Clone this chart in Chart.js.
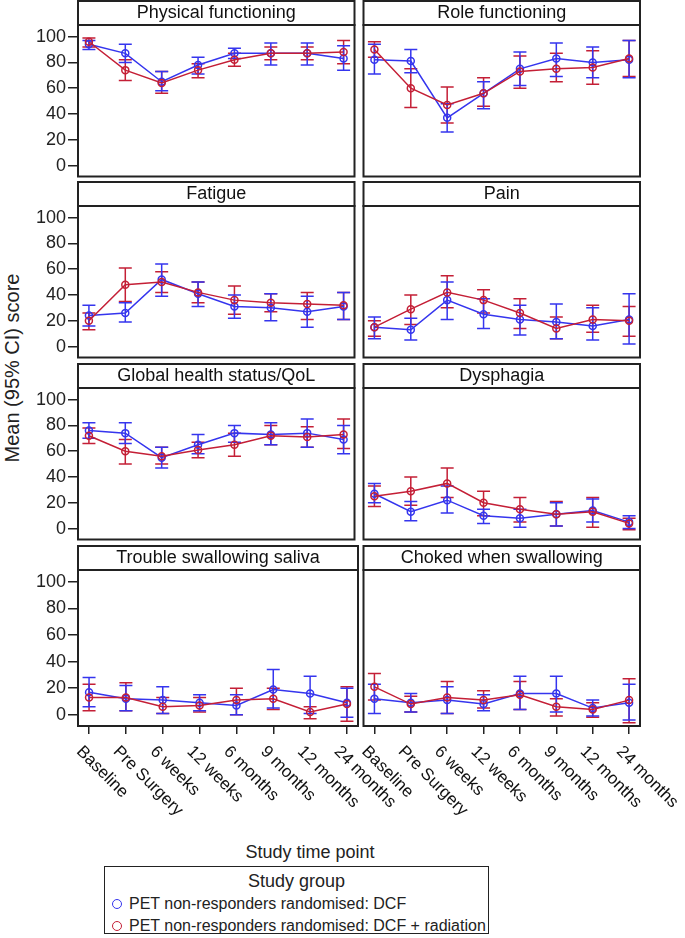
<!DOCTYPE html>
<html>
<head>
<meta charset="utf-8">
<script src="https://cdn.jsdelivr.net/npm/chart.js@4.4.0/dist/chart.umd.min.js"></script>
<style>
  body { margin: 0; background: #fff; font-family: "Liberation Sans", Arial, sans-serif; color: #222; }
  #wrap { position: relative; width: 685px; height: 938px; overflow: hidden; }
  #wrap canvas { position: absolute; }
  .ytitle { position: absolute; left: 12px; top: 368px; transform: translate(-50%, -50%) rotate(-90deg); font-size: 20px; white-space: nowrap; }
  .xtitle { position: absolute; left: 310px; top: 852px; transform: translate(-50%, -50%); font-size: 18px; white-space: nowrap; }
  .legend { position: absolute; left: 104px; top: 866px; width: 385px; height: 68px; border: 1.5px solid #222; box-sizing: border-box; }
  .legend .head { text-align: center; font-size: 18px; margin-top: 4px; line-height: 20px; }
  .legend .row { position: absolute; left: 24px; font-size: 16px; line-height: 18px; white-space: nowrap; }
  .legend .dot { position: absolute; left: -17px; top: 4px; width: 8px; height: 8px; border: 1.5px solid; border-radius: 50%; }
</style>
</head>
<body>
<div id="wrap">
  <div class="ytitle">Mean (95% CI) score</div>
  <div class="xtitle">Study time point</div>
  <div class="legend">
    <div class="head">Study group</div>
    <div class="row" style="top:28px"><span class="dot" style="border-color:#3535ee"></span>PET non-responders randomised: DCF</div>
    <div class="row" style="top:50px"><span class="dot" style="border-color:#c41f36"></span>PET non-responders randomised: DCF + radiation</div>
  </div>
</div>
<script>
const timePoints = ['Baseline', 'Pre Surgery', '6 weeks', '12 weeks', '6 months', '9 months', '12 months', '24 months'];
const yTicks = [0, 20, 40, 60, 80, 100];
const groupNames = ['PET non-responders randomised: DCF', 'PET non-responders randomised: DCF + radiation'];

// Physical functioning
const physicalDcf = [94, 87, 65, 78, 87, 87, 87, 83];
const physicalDcfCi = [[90, 97], [80, 94], [58, 73], [71, 84], [83, 91], [78, 95], [78, 95], [74, 93]];
const physicalRad = [96, 74, 64, 74, 82, 87, 87, 88];
const physicalRadCi = [[92, 99], [66, 82], [56, 73], [68, 79], [77, 87], [82, 92], [82, 92], [79, 97]];

// Role functioning
const roleDcf = [82, 81, 37, 56, 75, 83, 80, 82];
const roleDcfCi = [[71, 94], [72, 90], [26, 48], [44, 65], [62, 88], [69, 95], [68, 92], [68, 97]];
const roleRad = [90, 60, 47, 56, 73, 75, 76, 83];
const roleRadCi = [[84, 96], [45, 75], [33, 61], [46, 68], [60, 85], [65, 87], [63, 89], [69, 97]];

// Fatigue
const fatigueDcf = [24, 26, 52, 41, 31, 30, 27, 31];
const fatigueDcfCi = [[16, 32], [19, 34], [39, 64], [31, 50], [22, 40], [20, 41], [15, 39], [21, 42]];
const fatigueRad = [20, 48, 50, 42, 36, 34, 33, 32];
const fatigueRadCi = [[13, 26], [35, 61], [42, 58], [34, 50], [25, 47], [27, 41], [21, 42], [21, 42]];

// Pain
const painDcf = [15, 13, 36, 25, 21, 19, 16, 21];
const painDcfCi = [[6, 23], [5, 22], [21, 50], [14, 37], [9, 32], [6, 33], [5, 30], [2, 41]];
const painRad = [15, 29, 42, 36, 26, 14, 21, 20];
const painRadCi = [[8, 20], [17, 40], [30, 55], [26, 44], [14, 37], [6, 23], [11, 32], [8, 31]];

// Global health status/QoL
const globalDcf = [76, 74, 55, 65, 74, 73, 74, 69];
const globalDcfCi = [[70, 82], [66, 82], [47, 63], [58, 73], [67, 80], [65, 82], [63, 85], [58, 80]];
const globalRad = [72, 60, 56, 61, 65, 72, 71, 73];
const globalRadCi = [[66, 78], [50, 69], [50, 63], [55, 67], [56, 74], [65, 80], [63, 79], [62, 85]];

// Dysphagia
const dysphagiaDcf = [27, 13, 22, 10, 8, 11, 14, 5];
const dysphagiaDcfCi = [[20, 35], [6, 21], [12, 33], [4, 15], [1, 15], [2, 20], [5, 23], [0, 10]];
const dysphagiaRad = [25, 29, 35, 20, 15, 11, 13, 4];
const dysphagiaRadCi = [[17, 33], [18, 40], [24, 47], [10, 29], [5, 24], [2, 21], [1, 24], [-1, 8]];

// Trouble swallowing saliva
const salivaDcf = [17, 12, 11, 9, 7, 19, 16, 9];
const salivaDcfCi = [[6, 28], [3, 22], [1, 21], [3, 15], [0, 15], [5, 34], [1, 29], [-2, 20]];
const salivaRad = [13, 13, 6, 7, 11, 12, 2, 8];
const salivaRadCi = [[3, 23], [3, 24], [1, 13], [2, 13], [0, 20], [4, 20], [-3, 6], [-5, 21]];

// Choked when swallowing
const chokedDcf = [12, 9, 11, 8, 16, 16, 5, 9];
const chokedDcfCi = [[1, 23], [2, 16], [1, 21], [3, 15], [4, 29], [2, 29], [-1, 11], [-4, 23]];
const chokedRad = [21, 8, 13, 11, 15, 6, 4, 11];
const chokedRadCi = [[11, 31], [2, 14], [1, 25], [5, 18], [4, 25], [-1, 12], [-2, 9], [-6, 27]];

const panels = [
  ['Physical functioning', physicalDcf, physicalDcfCi, physicalRad, physicalRadCi],
  ['Role functioning', roleDcf, roleDcfCi, roleRad, roleRadCi],
  ['Fatigue', fatigueDcf, fatigueDcfCi, fatigueRad, fatigueRadCi],
  ['Pain', painDcf, painDcfCi, painRad, painRadCi],
  ['Global health status/QoL', globalDcf, globalDcfCi, globalRad, globalRadCi],
  ['Dysphagia', dysphagiaDcf, dysphagiaDcfCi, dysphagiaRad, dysphagiaRadCi],
  ['Trouble swallowing saliva', salivaDcf, salivaDcfCi, salivaRad, salivaRadCi],
  ['Choked when swallowing', chokedDcf, chokedDcfCi, chokedRad, chokedRadCi]
];

const BLUE = '#3535ee';
const RED = '#c41f36';
const FONT = '"Liberation Sans", Arial, sans-serif';
Chart.defaults.font.family = FONT;
Chart.defaults.color = '#222';

const rowTops = [0, 181, 363, 545];

// vertical CI whiskers with caps
const errorBars = {
  id: 'errorBars',
  beforeDatasetsDraw(chart) {
    const ctx = chart.ctx;
    const x = chart.scales.x, y = chart.scales.y;
    [...chart.data.datasets].reverse().forEach(ds => {
      ctx.save();
      ctx.strokeStyle = ds.borderColor;
      ctx.lineWidth = 1.5;
      ds.ci.forEach((c, i) => {
        const px = x.getPixelForValue(i);
        const top = y.getPixelForValue(c[1]);
        const bot = y.getPixelForValue(c[0]);
        ctx.beginPath();
        ctx.moveTo(px, top); ctx.lineTo(px, bot);
        ctx.moveTo(px - 6.5, top); ctx.lineTo(px + 6.5, top);
        ctx.moveTo(px - 6.5, bot); ctx.lineTo(px + 6.5, bot);
        ctx.stroke();
      });
      ctx.restore();
    });
  }
};

// header band, frame and rotated time point labels
const panelFrame = {
  id: 'panelFrame',
  afterDraw(chart, args, opts) {
    const ctx = chart.ctx, a = chart.chartArea;
    ctx.save();
    ctx.strokeStyle = '#222';
    ctx.lineWidth = 2;
    ctx.strokeRect(a.left, a.top, a.right - a.left, a.bottom - a.top);
    ctx.strokeRect(a.left, 1, a.right - a.left, a.top - 1);
    ctx.fillStyle = '#111';
    ctx.font = '18px ' + FONT;
    ctx.textAlign = 'center';
    ctx.textBaseline = 'middle';
    ctx.fillText(opts.title, (a.left + a.right) / 2, a.top / 2 + 1);
    if (opts.xLabels) {
      const x = chart.scales.x;
      ctx.font = '17px ' + FONT;
      ctx.textAlign = 'left';
      ctx.textBaseline = 'top';
      timePoints.forEach((t, i) => {
        ctx.save();
        ctx.translate(x.getPixelForValue(i) - 4, a.bottom + 17);
        ctx.rotate(Math.PI / 4);
        ctx.fillText(t, 0, 0);
        ctx.restore();
      });
    }
    ctx.restore();
  }
};

const wrap = document.getElementById('wrap');

panels.forEach((p, k) => {
  const col = k % 2, row = Math.floor(k / 2);
  const bottom = row === 3;
  const cv = document.createElement('canvas');
  const w = col === 0 ? (bottom ? 430 : 360) : 327;
  const h = bottom ? 290 : 182;
  cv.width = w; cv.height = h;
  cv.style.left = (col === 0 ? 0 : 358) + 'px';
  cv.style.top = rowTops[row] + 'px';
  wrap.appendChild(cv);

  const mk = (vals, ci, color, label, order) => ({
    label: label,
    data: vals.map((v, i) => ({ x: i, y: v })),
    ci: ci,
    order: order,
    borderColor: color,
    borderWidth: 1.5,
    pointStyle: 'circle',
    pointRadius: 3.5,
    pointBorderWidth: 1.5,
    pointBorderColor: color,
    pointBackgroundColor: 'rgba(0,0,0,0)',
    tension: 0
  });

  new Chart(cv, {
    type: 'line',
    data: {
      datasets: [
        mk(p[1], p[2], BLUE, groupNames[0], 2),
        mk(p[3], p[4], RED, groupNames[1], 1)
      ]
    },
    options: {
      responsive: false,
      animation: false,
      devicePixelRatio: 1,
      layout: {
        padding: {
          top: 25,
          left: col === 0 ? 0 : 1,
          right: col === 0 ? w - 358 : w - 282,
          bottom: bottom ? 0 : 1
        }
      },
      scales: {
        x: {
          type: 'linear',
          min: -0.3,
          max: 7.3,
          display: bottom,
          afterBuildTicks: s => { s.ticks = timePoints.map((t, i) => ({ value: i })); },
          afterFit: s => { s.height = bottom ? 109 : 0; s.paddingLeft = 0; s.paddingRight = 0; },
          ticks: { display: false },
          grid: { drawOnChartArea: false, drawTicks: true, tickLength: 8, color: '#222', lineWidth: 1.5 },
          border: { display: false }
        },
        y: {
          type: 'linear',
          min: -8.5,
          max: 109,
          display: col === 0,
          afterBuildTicks: s => { s.ticks = yTicks.map(v => ({ value: v })); },
          afterFit: s => { s.width = col === 0 ? 78 : 0; s.paddingTop = 0; s.paddingBottom = 0; },
          ticks: { font: { size: 18 }, color: '#222', padding: 2 },
          grid: { drawOnChartArea: false, drawTicks: true, tickLength: 10, color: '#222', lineWidth: 1.5 },
          border: { display: false }
        }
      },
      plugins: {
        legend: { display: false },
        tooltip: { enabled: false },
        panelFrame: { title: p[0], xLabels: bottom }
      }
    },
    plugins: [errorBars, panelFrame]
  });
});
</script>
</body>
</html>
